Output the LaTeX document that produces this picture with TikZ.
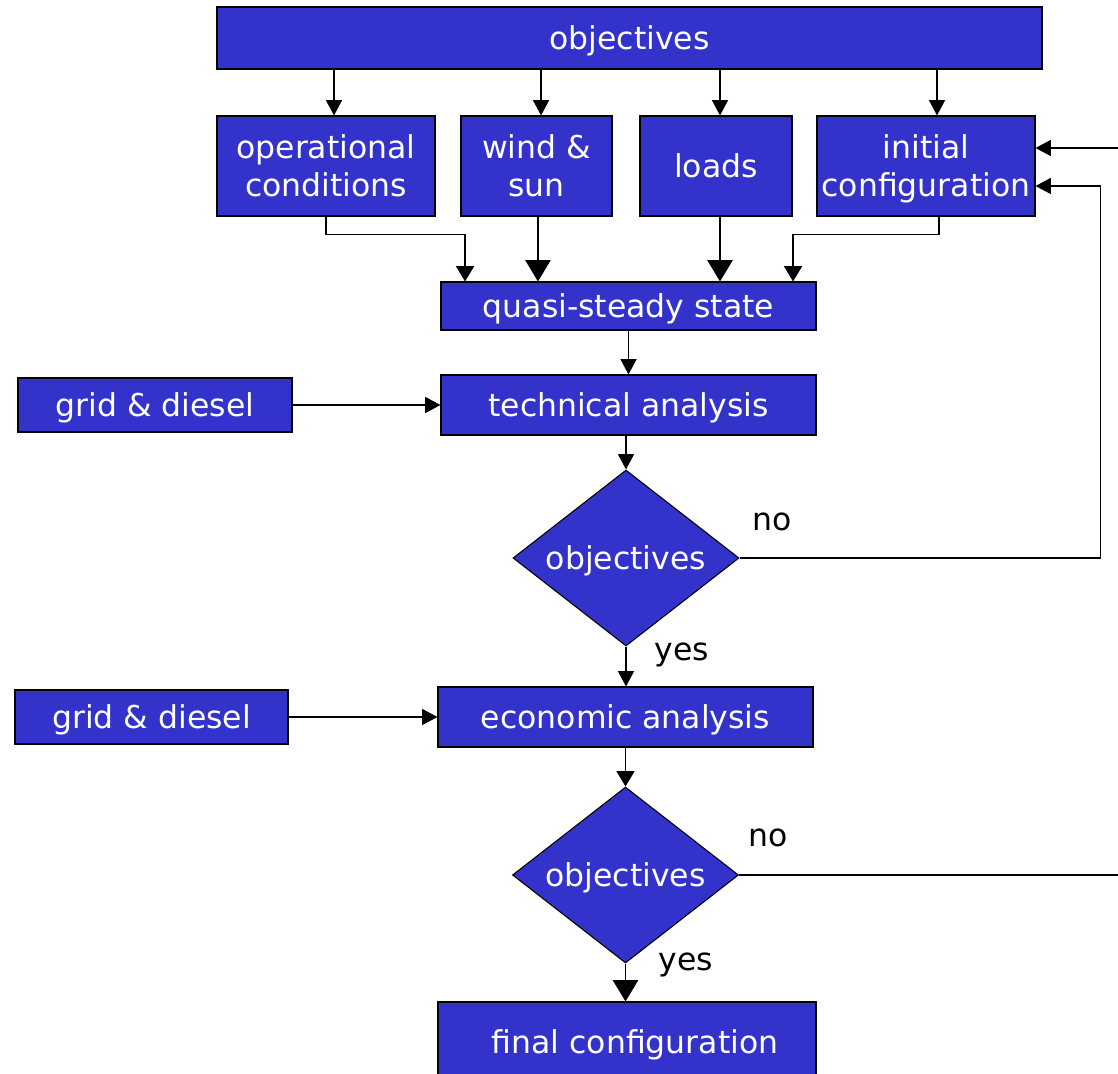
\documentclass[tikz,border=0pt]{standalone}
\usepackage{fontspec}
\setmainfont{DejaVu Sans}
\usetikzlibrary{arrows.meta,shapes.geometric}
\definecolor{boxblue}{RGB}{51,51,204}
\begin{document}
\begin{tikzpicture}[x=0.75pt,y=-0.75pt,
  every node/.style={font=\fontsize{23.6}{28.5}\selectfont},
  box/.style={draw=black, line width=0.8pt, fill=boxblue, text=white, align=center, inner sep=0pt, text depth=0pt},
  dia/.style={shape=diamond, draw=black, line width=0.8pt, fill=boxblue, text=white, inner sep=0pt, text depth=0pt, shape aspect=1.28, minimum width=169.5pt, minimum height=132pt},
  lbl/.style={text=black, inner sep=0pt},
  conn/.style={draw=black, line width=1.1pt},
  arrs/.style={conn, -{Triangle[width=12pt,length=11.5pt]}},
  arrm/.style={conn, -{Triangle[width=13.5pt,length=11.5pt]}},
  arrl/.style={conn, -{Triangle[width=19pt,length=16pt]}}
]
\useasboundingbox (0,0) rectangle (1118,1074);

% nodes
\node[box, minimum width=618.75pt, minimum height=46.5pt] (obj) at (629.5,38) {objectives};
\node[box, minimum width=163.5pt, minimum height=75pt] (op) at (326,166) {operational\\conditions};
\node[box, minimum width=113.25pt, minimum height=75pt] (wind) at (536.5,166) {wind \&\\sun};
\node[box, minimum width=114pt, minimum height=75pt] (loads) at (716,166) {loads};
\node[box, minimum width=163.5pt, minimum height=75pt] (init) at (926,166) {initial\\configuration};
\node[box, minimum width=281.25pt, minimum height=36pt] (qss) at (628.5,306) {quasi-steady state};
\node[box, minimum width=281.25pt, minimum height=45pt] (tech) at (628.5,405) {technical analysis};
\node[box, minimum width=205.5pt, minimum height=40.5pt] (gd1) at (155,405) {grid \& diesel};
\node[dia] (d1) at (626,558) {objectives};
\node[box, minimum width=281.25pt, minimum height=45pt] (econ) at (625.5,717) {economic analysis};
\node[box, minimum width=204.75pt, minimum height=40.5pt] (gd2) at (151.5,717) {grid \& diesel};
\node[dia] (d2) at (625.5,875) {objectives};
\node[box, minimum width=283.5pt, minimum height=60pt] (final) at (627,1042) {\hspace*{12pt}final configuration};

\node[lbl] (no1) at (772,522) {no};
\node[lbl] (yes1) at (682,655) {yes};
\node[lbl] (no2) at (768,838) {no};
\node[lbl] (yes2) at (686,965) {yes};

\coordinate (e1) at (1118,148);
\coordinate (e2) at (1118,875);

% objectives -> top row
\draw[arrs] ([xshift=6pt]op.north |- obj.south) -- ([xshift=6pt]op.north);
\draw[arrs] ([xshift=3.4pt]wind.north |- obj.south) -- ([xshift=3.4pt]wind.north);
\draw[arrs] ([xshift=3pt]loads.north |- obj.south) -- ([xshift=3pt]loads.north);
\draw[arrs] ([xshift=8.25pt]init.north |- obj.south) -- ([xshift=8.25pt]init.north);

% top row -> quasi-steady state
\draw[arrm] (op.south) -- ++(0,18) -| ([xshift=-122.6pt]qss.north);
\draw[arrl] ([xshift=1.1pt]wind.south) -- ([xshift=1.1pt]wind.south |- qss.north);
\draw[arrl] ([xshift=3pt]loads.south) -- ([xshift=3pt]loads.south |- qss.north);
\draw[arrm] ([xshift=9.75pt]init.south) -- ++(0,18) -| ([xshift=123.4pt]qss.north);

% main flow
\draw[arrs] (qss.south) -- (tech.north);
\draw[arrs] (gd1.east) -- (tech.west);
\draw[arrs] (d1.north |- tech.south) -- (d1.north);
\draw[arrs] (d1.south) -- (d1.south |- econ.north);
\draw[arrs] (gd2.east) -- (econ.west);
\draw[arrm] (econ.south -| d2.north) -- (d2.north);
\draw[arrl] (d2.south) -- (d2.south |- final.north);

% feedback loops
\draw[arrs] (d1.east) -- ++(361,0) |- ([yshift=-15pt]init.east);
\draw[arrs] (e1) -- (e1 -| init.east);
\draw[conn] (d2.east) -- (e2);
\end{tikzpicture}
\end{document}
